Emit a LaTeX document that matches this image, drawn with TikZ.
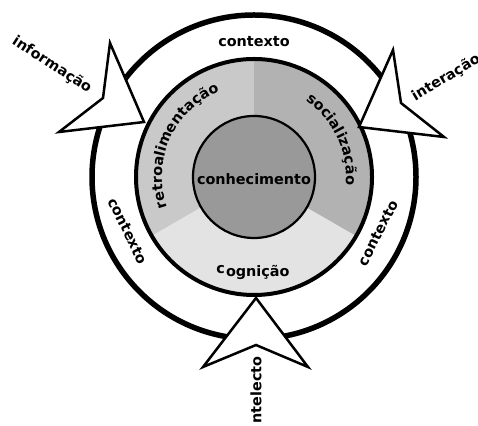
\documentclass[tikz,border=0pt]{standalone}
\usepackage{fontspec}
\setmainfont{DejaVu Sans}
\usetikzlibrary{decorations.text,calc}
\newcommand\lblfont{\fontsize{14.4}{16}\selectfont\bfseries}
\definecolor{retrocol}{gray}{0.79}
\definecolor{soccol}{gray}{0.70}
\definecolor{cogcol}{gray}{0.89}
\definecolor{corecol}{gray}{0.60}
\begin{document}
\begin{tikzpicture}[x=1pt,y=1pt,
  lbl/.style={font=\lblfont, inner sep=0pt},
  dart/.style={draw=black, line width=2.5pt, fill=white, line join=miter},
  ringtext/.style={decorate, decoration={text along path, text align=center, text={|\lblfont|#1}}}]
\useasboundingbox (0,0) rectangle (478,425);
\coordinate (O) at (254,248);
% sectors
\fill[retrocol] (O) -- ($(O)+(90:118)$) arc[start angle=90,end angle=210,radius=118] -- cycle;
\fill[cogcol] (O) -- ($(O)+(210:118)$) arc[start angle=210,end angle=330,radius=118] -- cycle;
\fill[soccol] (O) -- ($(O)+(-30:118)$) arc[start angle=-30,end angle=90,radius=118] -- cycle;
\draw[line width=4pt] (O) circle[radius=118];
\draw[line width=2.2pt, fill=corecol] (O) circle[radius=61];
\draw[line width=5.5pt] (O) circle[radius=162];
% darts
\coordinate (t1) at (144,303); \coordinate (a1) at (110,382); \coordinate (n1) at (103,327); \coordinate (b1) at (59,293);
\coordinate (t2) at (359,298); \coordinate (a2) at (393,375); \coordinate (n2) at (401,322); \coordinate (b2) at (444,288);
\coordinate (t3) at (256,127); \coordinate (a3) at (203,58); \coordinate (n3) at (256,80); \coordinate (b3) at (308,58);
\draw[dart] (t1) -- (a1) -- (n1) -- (b1) -- cycle;
\draw[dart] (t2) -- (a2) -- (n2) -- (b2) -- cycle;
\draw[dart] (t3) -- (a3) -- (n3) -- (b3) -- cycle;
% ring texts
\path[ringtext=retroalimentação] ($(O)+(215.5:92)$) arc[start angle=215.5,end angle=95.5,radius=92];
\path[ringtext=socialização] ($(O)+(85.5:92)$) arc[start angle=85.5,end angle=-34.5,radius=92];
% labels
\node[lbl, anchor=base] (core) at (254,240) {conhecimento};
\node[lbl, anchor=base] (cog) at (253,148) {\raisebox{3pt}{c}\kern1pt ognição};
\node[lbl, anchor=base] (ctop) at (254,378) {contexto};
\node[lbl, rotate=-64] (cleft) at (128,194) {contexto};
\node[lbl, rotate=63] (cright) at (378,192) {contexto};
\node[lbl, rotate=-33] (info) at (52,360) {informação};
\node[lbl, rotate=31] (inter) at (446,347) {interação};
\node[lbl, rotate=90] (intel) at (256,35) {ntelecto};
\end{tikzpicture}
\end{document}
